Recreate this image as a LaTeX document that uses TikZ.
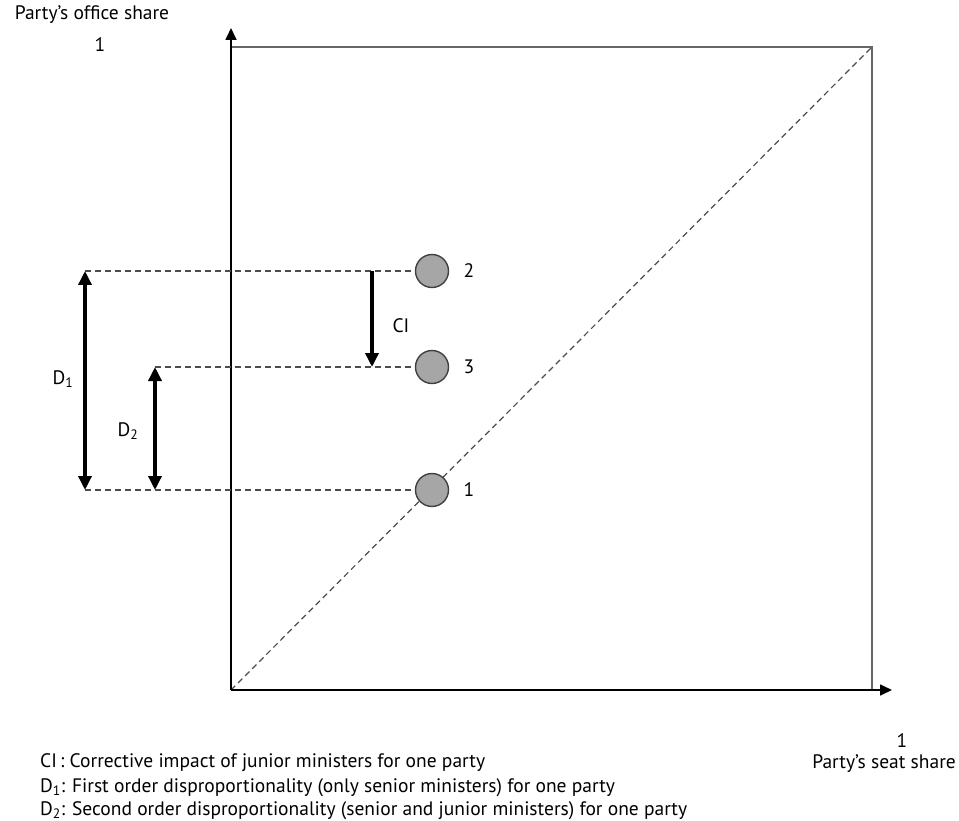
\documentclass[tikz,border=0pt]{standalone}
\usepackage{fontspec}
\setmainfont{PT Sans}
\usetikzlibrary{arrows.meta}

\begin{document}
\begin{tikzpicture}[
  x=1pt, y=-1pt,
  every node/.style={font=\fontsize{19.5}{23}\selectfont, inner sep=0pt},
  party/.style={draw=black!75, fill=black!35, circle, minimum size=33pt, line width=1.4pt},
  axis/.style={draw, black, line width=1.7pt, -{Triangle[length=12pt, width=11pt]}},
  frame/.style={draw, black!60, line width=2.4pt},
  guide/.style={draw, black!70, dash pattern=on 6pt off 4pt, line width=1.2pt},
  pointer/.style={draw, line width=3.4pt, -{Triangle[length=14pt, width=13pt]}},
  twoway/.style={pointer, {Triangle[length=14pt, width=13pt]}-{Triangle[length=14pt, width=13pt]}}
]
\useasboundingbox (0,0) rectangle (959,821);

% Axes and frame
\coordinate (o) at (231,690);
\coordinate (ytip) at (231,28);
\coordinate (xtip) at (892,690);
\coordinate (tl) at (231,47);
\coordinate (tr) at (872,47);
\coordinate (br) at (872,690);
\draw[frame] (tl) -- (tr) -- (br);
\draw[guide] (o) -- (tr);
\draw[axis] (o) -- (ytip);
\draw[axis] (o) -- (xtip);

% Nodes
\node[party] (p2) at (432,271) {};
\node[party] (p3) at (432,367) {};
\node[party] (p1) at (432,490) {};
\node (l2) at (469,271) {2};
\node (l3) at (469,367) {3};
\node (l1) at (469,490) {1};

\node (ylab) at (92,15) {Party’s office share};
\node (yone) at (100,45) {1};
\node (xone) at (902,741) {1};
\node[anchor=east] (xlab) at (956,764) {Party’s seat share};

% Dashed guides
\coordinate (d1top) at (85,271);
\coordinate (d1bot) at (85,490);
\coordinate (d2top) at (155,367);
\coordinate (d2bot) at (155,490);
\coordinate (citop) at (372,271);
\coordinate (cibot) at (372,367);
\draw[guide] (d1top) -- (p2.west);
\draw[guide] (d2top) -- (p3.west);
\draw[guide] (d1bot) -- (p1.west);

% Arrows
\draw[twoway] (d1top) -- (d1bot);
\draw[twoway] (d2top) -- (d2bot);
\draw[pointer] (citop) -- (cibot);
\node (dlab1) at (63,379) {D\textsubscript{1}};
\node (dlab2) at (128,431) {D\textsubscript{2}};
\node (cilab) at (401,326) {CI};

% Legend
\node[anchor=west] (leg1) at (40,763) {CI\,: Corrective impact of junior ministers for one party};
\node[anchor=west] (leg2) at (40,788) {D\textsubscript{1}: First order disproportionality (only senior ministers) for one party};
\node[anchor=west] (leg3) at (40,811) {D\textsubscript{2}: Second order disproportionality (senior and junior ministers) for one party};

\end{tikzpicture}
\end{document}
